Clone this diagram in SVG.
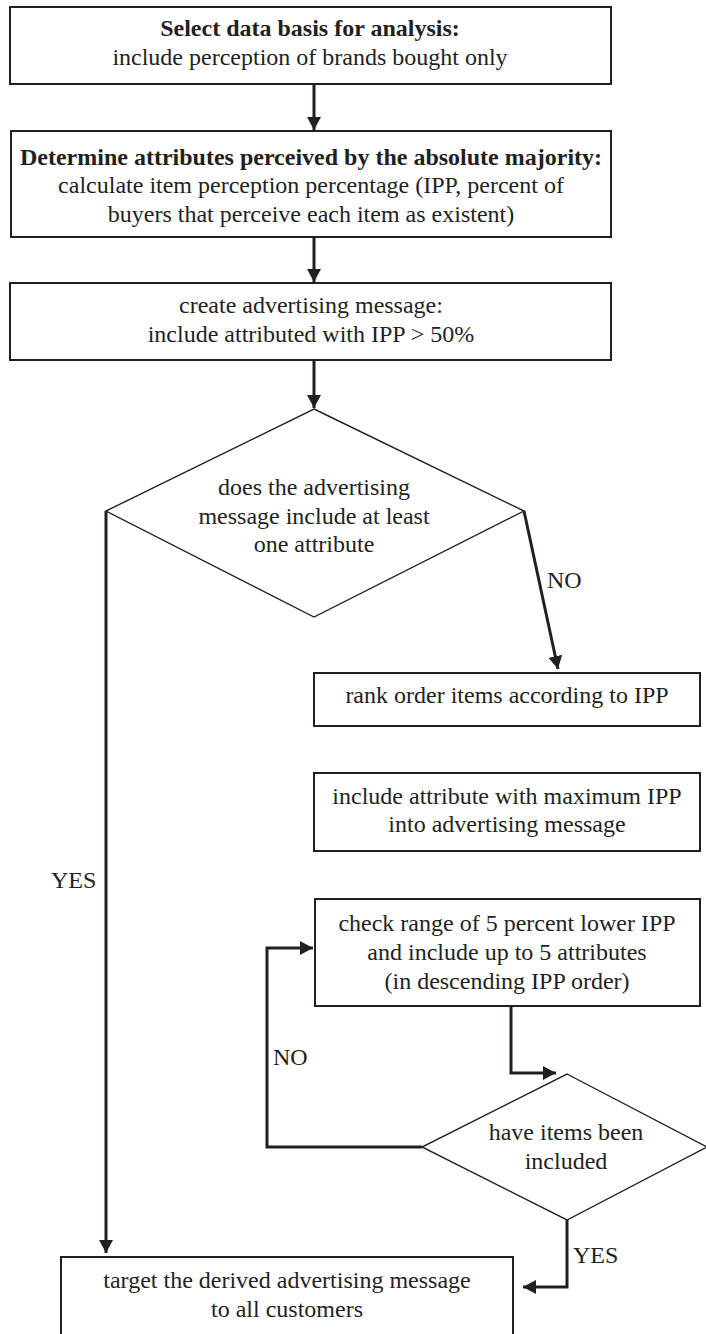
<svg xmlns="http://www.w3.org/2000/svg" width="706" height="1334" viewBox="0 0 706 1334">
  <defs>
    <marker id="arrow" markerUnits="userSpaceOnUse" markerWidth="14" markerHeight="14" refX="13" refY="7" orient="auto">
      <path d="M0,0 L13,7 L0,14 Z" fill="#231f20"/>
    </marker>
    <style>
      .box { fill: #ffffff; stroke: #231f20; stroke-width: 2; }
      .dia { fill: #ffffff; stroke: #231f20; stroke-width: 1.4; }
      .conn { fill: none; stroke: #231f20; stroke-width: 3; stroke-linejoin: miter; }
      text { font-family: "Liberation Serif", "Times New Roman", serif; font-size: 24px; fill: #231f20; }
      .c { text-anchor: middle; }
      .b { font-weight: bold; }
    </style>
  </defs>
  <rect width="706" height="1334" fill="#ffffff"/>

  <g id="connectors">
    <path class="conn" d="M314,84 V130" marker-end="url(#arrow)"/>
    <path class="conn" d="M314,238 V282" marker-end="url(#arrow)"/>
    <path class="conn" d="M314,361 V408" marker-end="url(#arrow)"/>
    <path class="conn" d="M524,511 L558,669" marker-end="url(#arrow)"/>
    <path class="conn" d="M106,511 V1253" marker-end="url(#arrow)"/>
    <path class="conn" d="M511,1006 V1073 H556" marker-end="url(#arrow)"/>
    <path class="conn" d="M422,1147 H267 V948 H313" marker-end="url(#arrow)"/>
    <path class="conn" d="M567,1220 V1287 H523" marker-end="url(#arrow)"/>
    <text x="547" y="588">NO</text>
    <text x="51" y="888">YES</text>
    <text x="273" y="1065">NO</text>
    <text x="573" y="1263">YES</text>
  </g>

  <g id="select">
    <rect class="box" x="10" y="7" width="601" height="77"/>
    <text class="c b" x="310" y="36">Select data basis for analysis:</text>
    <text class="c" x="310" y="65">include perception of brands bought only</text>
  </g>

  <g id="determine">
    <rect class="box" x="11" y="131" width="600" height="106"/>
    <text class="c b" x="311" y="165">Determine attributes perceived by the absolute majority:</text>
    <text class="c" x="311" y="193">calculate item perception percentage (IPP, percent of</text>
    <text class="c" x="311" y="222">buyers that perceive each item as existent)</text>
  </g>

  <g id="create">
    <rect class="box" x="10" y="283" width="601" height="77"/>
    <text class="c" x="311" y="313">create advertising message:</text>
    <text class="c" x="311" y="342">include attributed with IPP &gt; 50%</text>
  </g>

  <g id="decision1">
    <polygon class="dia" points="314,409 524,511 314,617 106,511"/>
    <text class="c" x="314" y="495">does the advertising</text>
    <text class="c" x="314" y="524">message include at least</text>
    <text class="c" x="314" y="552">one attribute</text>
  </g>

  <g id="rank">
    <rect class="box" x="314" y="673" width="386" height="53"/>
    <text class="c" x="507" y="703">rank order items according to IPP</text>
  </g>

  <g id="include-max">
    <rect class="box" x="314" y="773" width="386" height="78"/>
    <text class="c" x="507" y="804">include attribute with maximum IPP</text>
    <text class="c" x="507" y="832">into advertising message</text>
  </g>

  <g id="check">
    <rect class="box" x="315" y="899" width="385" height="107"/>
    <text class="c" x="507" y="931">check range of 5 percent lower IPP</text>
    <text class="c" x="507" y="960">and include up to 5 attributes</text>
    <text class="c" x="507" y="989">(in descending IPP order)</text>
  </g>

  <g id="decision2">
    <polygon class="dia" points="567,1074 707,1147 567,1220 422,1147"/>
    <text class="c" x="566" y="1140">have items been</text>
    <text class="c" x="566" y="1169">included</text>
  </g>

  <g id="target">
    <rect class="box" x="61" y="1257" width="452" height="90"/>
    <text class="c" x="287" y="1288">target the derived advertising message</text>
    <text class="c" x="287" y="1317">to all customers</text>
  </g>
</svg>
